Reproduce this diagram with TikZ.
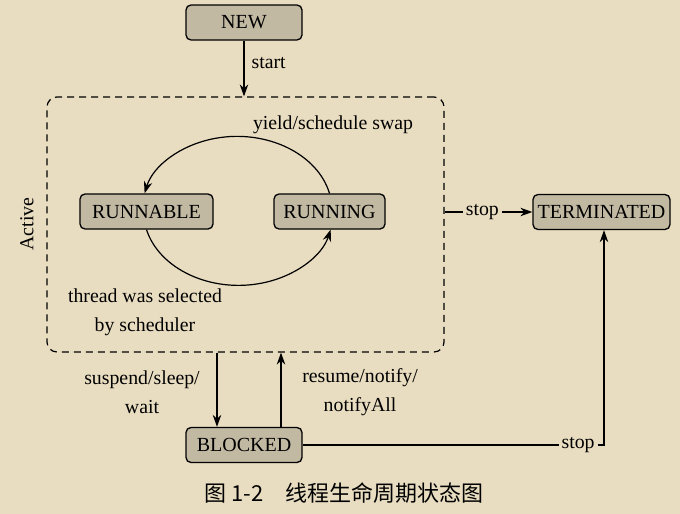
\documentclass[tikz,border=0pt]{standalone}
\usepackage{fontspec}
\setmainfont{Liberation Serif}
\newfontfamily\cjk{Noto Sans CJK SC}
\usetikzlibrary{arrows.meta}
\definecolor{bg}{HTML}{E9DDC1}
\definecolor{boxfill}{HTML}{C2B9A3}
\begin{document}
\begin{tikzpicture}[x=1pt,y=-1pt,
  state/.style={draw, rounded corners=5pt, fill=boxfill, line width=1.3pt, minimum height=35pt, inner sep=0pt, font=\fontsize{20}{22}\selectfont},
  lbl/.style={font=\fontsize{19.8}{29}\selectfont, inner sep=1pt, align=center},
  conn/.style={line width=1.2pt, -{Stealth[length=12pt,width=8.5pt]}}]
\fill[bg] (0,0) rectangle (680,514);
\useasboundingbox (0,0) rectangle (680,514);

\node[draw, dashed, dash pattern=on 7pt off 5pt, line width=1.2pt, rounded corners=10pt, minimum width=397pt, minimum height=255pt, inner sep=0pt] (active) at (245.5,224.5) {};

\node[state, minimum width=116pt] (new) at (244,22.5) {NEW};
\node[state, minimum width=133pt] (runnable) at (146.5,211.5) {RUNNABLE};
\node[state, minimum width=111pt] (running) at (329.5,211.5) {RUNNING};
\node[state, minimum width=137pt] (term) at (601.5,212) {TERMINATED};
\node[state, minimum width=116pt] (blocked) at (244,445) {BLOCKED};

\draw[conn] (new.south) -- node[lbl, right=6pt, pos=0.4] {start} (new.south |- active.north);

\draw[conn] (running.north) arc[start angle=-13.3, end angle=-166.7, x radius=95, y radius=74];
\draw[conn] (runnable.south) arc[start angle=165.7, end angle=14.2, x radius=95, y radius=74];

\node[lbl] (ylab) at (333,125) {yield/schedule swap};
\node[lbl] (tlab) at (145,312) {thread was selected\\by scheduler};
\node[lbl, rotate=90] (alab) at (27,224) {Active};

\draw[conn] (active.east |- term.west) -- node[lbl, fill=bg, inner xsep=3pt, pos=0.43] {stop} (term.west);

\draw[conn] ([xshift=-27pt]blocked.north |- active.south) -- ([xshift=-27pt]blocked.north);
\draw[conn] ([xshift=37pt]blocked.north) -- ([xshift=37pt]blocked.north |- active.south);
\node[lbl] (slab) at (142,392) {suspend/sleep/\\wait};
\node[lbl] (rlab) at (360,392) {resume/notify/\\notifyAll};

\draw[conn] (blocked.east) -| node[lbl, fill=bg, inner xsep=3pt, pos=0.457] {stop} ([xshift=2.5pt]term.south);

\node[font=\cjk\fontsize{22}{24}\selectfont] (cap) at (344,493) {图 1-2\quad 线程生命周期状态图};
\end{tikzpicture}
\end{document}
